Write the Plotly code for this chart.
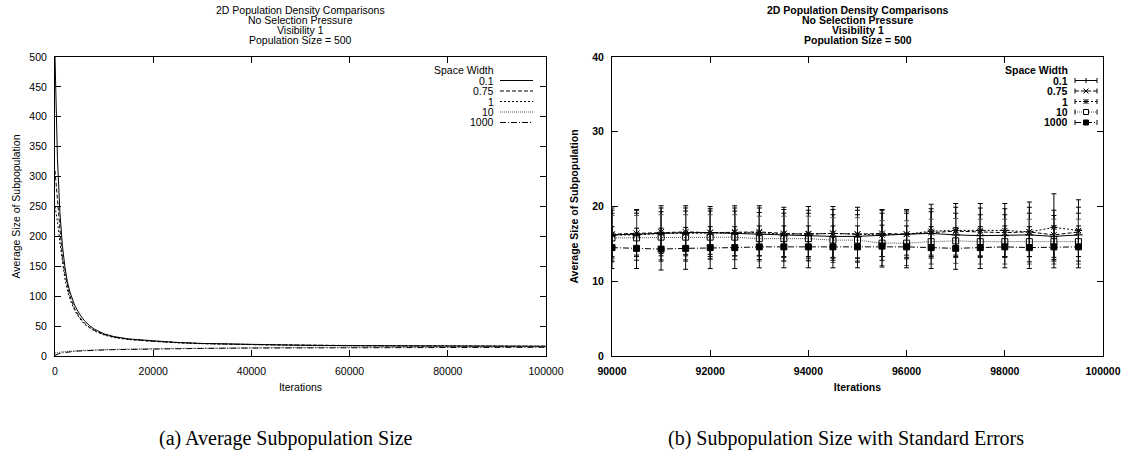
import plotly.graph_objects as go

W, H = 1125, 455

# ---------------- data ----------------
series_names = ["0.1", "0.75", "1", "10", "1000"]

# (a) average subpopulation size over all iterations
iter_a = [0, 500, 1000, 1500, 2000, 2500, 3000, 4000, 5000, 6000, 7000, 8000,
          10000, 12000, 15000, 20000, 25000, 30000, 40000, 50000, 60000,
          70000, 80000, 90000, 100000]
avg_01 = [500, 330, 240, 185, 150, 125, 108, 85, 70, 59, 51, 45,
          37, 32.5, 28.5, 25, 22.5, 21, 19, 18, 17.3, 16.8, 16.5, 16.3, 16.1]
avg_075 = [310, 260, 205, 165, 138, 117, 101, 79, 65, 55, 48, 43,
           36, 31.5, 28, 24.5, 22.3, 20.8, 19, 18, 17.3, 16.8, 16.6, 16.4, 16.3]
avg_1 = [250, 225, 190, 155, 130, 111, 96, 76, 63, 53, 47, 42,
         35, 31, 27.5, 24.2, 22, 20.6, 18.9, 17.9, 17.3, 16.8, 16.6, 16.4, 16.3]
avg_10 = [5, 6, 6.5, 7, 7.5, 7.9, 8.2, 8.8, 9.2, 9.6, 9.9, 10.2,
          10.7, 11.1, 11.6, 12.2, 12.7, 13.1, 13.8, 14.3, 14.7, 15, 15.3, 15.5, 15.6]
avg_1000 = [1, 3, 4.5, 5.3, 6, 6.5, 7, 7.8, 8.4, 8.9, 9.3, 9.6,
            10.1, 10.6, 11.1, 11.8, 12.3, 12.7, 13.3, 13.7, 14, 14.2, 14.4, 14.5, 14.6]

# (b) last 10000 iterations with standard errors
iter_b = [90000, 90500, 91000, 91500, 92000, 92500, 93000, 93500, 94000, 94500,
          95000, 95500, 96000, 96500, 97000, 97500, 98000, 98500, 99000, 99500]
sub_01 = [16.2, 16.3, 16.5, 16.5, 16.5, 16.4, 16.3, 16.2, 16.2, 16.0,
          16.0, 16.2, 16.3, 16.4, 16.2, 16.1, 16.1, 16.2, 16.0, 16.2]
err_01 = [2.9, 2.8, 2.8, 2.9, 2.9, 3.0, 2.9, 2.9, 2.9, 2.9,
          2.9, 2.9, 2.8, 2.9, 2.9, 2.8, 2.8, 2.9, 2.8, 2.9]
sub_075 = [16.3, 16.4, 16.6, 16.6, 16.5, 16.6, 16.6, 16.4, 16.3, 16.4,
           16.3, 16.4, 16.3, 16.5, 16.7, 16.6, 16.5, 16.6, 16.2, 16.6]
err_075 = [3.2, 3.1, 3.2, 3.2, 3.2, 3.2, 3.2, 3.2, 3.2, 3.2,
           3.2, 3.1, 3.1, 3.2, 3.2, 3.2, 3.2, 3.3, 3.3, 3.3]
sub_1 = [16.2, 16.2, 16.4, 16.4, 16.5, 16.5, 16.5, 16.3, 16.4, 16.4,
         16.3, 16.2, 16.3, 16.7, 16.8, 16.8, 16.8, 16.6, 17.2, 16.8]
err_1 = [3.6, 3.4, 3.7, 3.7, 3.5, 3.6, 3.6, 3.6, 3.6, 3.6,
         3.6, 3.4, 3.3, 3.6, 3.6, 3.6, 3.6, 4.0, 4.5, 4.1]
sub_10 = [15.8, 15.8, 15.9, 15.9, 15.9, 15.9, 15.7, 15.7, 15.7, 15.5,
          15.5, 15.1, 15.1, 15.3, 15.4, 15.3, 15.3, 15.3, 15.3, 15.3]
err_10 = [3.0, 3.0, 3.0, 3.0, 3.0, 3.0, 3.0, 3.0, 3.0, 3.0,
          3.0, 3.0, 3.0, 3.0, 3.0, 3.0, 3.0, 3.0, 3.0, 3.0]
sub_1000 = [14.5, 14.4, 14.3, 14.4, 14.5, 14.5, 14.6, 14.6, 14.6, 14.6,
            14.6, 14.7, 14.6, 14.5, 14.4, 14.5, 14.6, 14.5, 14.6, 14.6]
err_1000 = [2.8, 2.7, 2.8, 2.8, 2.8, 2.8, 2.8, 2.8, 2.8, 2.8,
            2.8, 2.8, 2.8, 2.8, 2.8, 2.8, 2.8, 2.8, 2.8, 2.8]

title_lines = ["2D Population Density Comparisons", "No Selection Pressure",
               "Visibility 1", "Population Size = 500"]
xticks_a = [0, 20000, 40000, 60000, 80000, 100000]
xlabels_a = ["0", "20000", "40000", "60000", "80000", "100000"]
yticks_a = [0, 50, 100, 150, 200, 250, 300, 350, 400, 450, 500]
xticks_b = [90000, 92000, 94000, 96000, 98000, 100000]
xlabels_b = ["90000", "92000", "94000", "96000", "98000", "100000"]
yticks_b = [0, 10, 20, 30, 40]
caption_a = "(a) Average Subpopulation Size"
caption_b = "(b) Subpopulation Size with Standard Errors"

# ---------------- styles ----------------
dashes = ["solid", "4px,2px", "2px,2px", "1px,1px", "6px,2px,1px,2px"]
colors = ["black", "black", "black", "#555555", "black"]
symbols = ["cross-thin", "x-thin", "asterisk", "square-open", "square"]

SANS = "Liberation Sans, Arial, sans-serif"
SERIF = "Liberation Serif, Times New Roman, serif"
TICK_SIZE = 10.5
TEXT_SIZE = 10.5


def px(x):
    return x / W


def py(y):
    return 1 - y / H


# plot rectangles in pixels
A = dict(l=55, r=546, t=57, b=356)
B = dict(l=612, r=1103, t=57, b=356)

fig = go.Figure()

avg_series = [avg_01, avg_075, avg_1, avg_10, avg_1000]
for name, ys, d, c in zip(series_names, avg_series, dashes, colors):
    fig.add_trace(go.Scatter(x=iter_a, y=ys, mode="lines", name=name,
                             line=dict(color=c, width=1, dash=d),
                             xaxis="x", yaxis="y", showlegend=False))

sub_series = [sub_01, sub_075, sub_1, sub_10, sub_1000]
err_series = [err_01, err_075, err_1, err_10, err_1000]
for name, ys, es, d, c, s in zip(series_names, sub_series, err_series, dashes, colors, symbols):
    fig.add_trace(go.Scatter(
        x=iter_b, y=ys, mode="lines+markers", name=name,
        line=dict(color=c, width=1, dash=d),
        marker=dict(symbol=s, size=6, color="black",
                    line=dict(color="black", width=1)),
        error_y=dict(type="data", array=es, visible=True, width=2.5,
                     thickness=1, color=c),
        xaxis="x2", yaxis="y2", showlegend=False))


def axis_common(bold=False):
    return dict(showline=True, linecolor="black", linewidth=1, mirror="ticks",
                ticks="inside", ticklen=6, tickcolor="black", tickwidth=1,
                showgrid=False, zeroline=False, automargin=False,
                ticklabelstandoff=5,
                tickfont=dict(family=SANS, size=TICK_SIZE, color="black",
                              weight="bold" if bold else "normal"))


def tfont(bold=False):
    return dict(family=SANS, size=TEXT_SIZE, color="black",
                weight="bold" if bold else "normal")


fig.update_layout(
    width=W, height=H, margin=dict(l=0, r=0, t=0, b=0, autoexpand=False),
    paper_bgcolor="white", plot_bgcolor="white", showlegend=False,
    xaxis=dict(domain=[px(A["l"]), px(A["r"])], range=[0, 100000],
               tickvals=xticks_a, ticktext=xlabels_a, anchor="y",
               title=dict(text="Iterations", standoff=8, font=tfont()),
               **axis_common()),
    yaxis=dict(domain=[py(A["b"]), py(A["t"])], range=[0, 500],
               tickvals=yticks_a, anchor="x",
               title=dict(text="Average Size of Subpopulation", standoff=6, font=tfont()),
               **axis_common()),
    xaxis2=dict(domain=[px(B["l"]), px(B["r"])], range=[90000, 100000],
                tickvals=xticks_b, ticktext=xlabels_b, anchor="y2",
                title=dict(text="Iterations", standoff=8, font=tfont(True)),
                **axis_common(True)),
    yaxis2=dict(domain=[py(B["b"]), py(B["t"])], range=[0, 40],
                tickvals=yticks_b, anchor="x2",
                title=dict(text="Average Size of Subpopulation", standoff=11, font=tfont(True)),
                **axis_common(True)),
)

annotations = []
shapes = []

# titles
for rect, bold in ((A, False), (B, True)):
    cx = (rect["l"] + rect["r"]) / 2
    for i, line in enumerate(title_lines):
        annotations.append(dict(
            x=px(cx), y=py(10 + i * 10), xref="paper", yref="paper",
            text=line, showarrow=False, xanchor="center", yanchor="middle",
            borderpad=0, font=tfont(bold)))

# captions
annotations.append(dict(x=px(286), y=py(438), xref="paper", yref="paper",
                        text=caption_a, showarrow=False, xanchor="center",
                        yanchor="middle", font=dict(family=SERIF, size=20, color="black")))
annotations.append(dict(x=px(846), y=py(438), xref="paper", yref="paper",
                        text=caption_b, showarrow=False, xanchor="center",
                        yanchor="middle", font=dict(family=SERIF, size=20, color="black")))

# legends (gnuplot style: label, then sample)
LEG_Y0 = 70
LEG_DY = 10.5


def add_legend(text_right, sample_l, sample_r, bold, with_markers):
    annotations.append(dict(x=px(text_right), y=py(LEG_Y0), xref="paper", yref="paper",
                            text="Space Width", showarrow=False, xanchor="right",
                            yanchor="middle", borderpad=0, font=tfont(bold)))
    for i, name in enumerate(series_names):
        yy = LEG_Y0 + LEG_DY * (i + 1)
        annotations.append(dict(x=px(text_right), y=py(yy), xref="paper", yref="paper",
                                text=name, showarrow=False, xanchor="right",
                                yanchor="middle", borderpad=0, font=tfont(bold)))
        shapes.append(dict(type="line", xref="paper", yref="paper",
                           x0=px(sample_l), x1=px(sample_r), y0=py(yy), y1=py(yy),
                           line=dict(color=colors[i], width=1, dash=dashes[i])))
        if with_markers:
            for xe in (sample_l, sample_r):
                shapes.append(dict(type="line", xref="paper", yref="paper",
                                   x0=px(xe), x1=px(xe), y0=py(yy - 2.5), y1=py(yy + 2.5),
                                   line=dict(color="black", width=1)))
            cx = (sample_l + sample_r) / 2
            r = 2.5
            sym = symbols[i]
            segs = []
            if sym == "cross-thin":
                segs = [((cx - r, yy), (cx + r, yy)), ((cx, yy - r), (cx, yy + r))]
            elif sym == "x-thin":
                segs = [((cx - r, yy - r), (cx + r, yy + r)), ((cx - r, yy + r), (cx + r, yy - r))]
            elif sym == "asterisk":
                segs = [((cx - r, yy), (cx + r, yy)), ((cx, yy - r), (cx, yy + r)),
                        ((cx - r, yy - r), (cx + r, yy + r)), ((cx - r, yy + r), (cx + r, yy - r))]
            for (x0, y0), (x1, y1) in segs:
                shapes.append(dict(type="line", xref="paper", yref="paper",
                                   x0=px(x0), x1=px(x1), y0=py(y0), y1=py(y1),
                                   line=dict(color="black", width=1)))
            if sym in ("square-open", "square"):
                shapes.append(dict(type="rect", xref="paper", yref="paper",
                                   x0=px(cx - r), x1=px(cx + r), y0=py(yy - r), y1=py(yy + r),
                                   line=dict(color="black", width=1),
                                   fillcolor="black" if sym == "square" else "white"))


add_legend(495, 500, 533, False, False)
add_legend(1069, 1075, 1097, True, True)

fig.update_layout(annotations=annotations, shapes=shapes)
fig.write_html("out.html")
